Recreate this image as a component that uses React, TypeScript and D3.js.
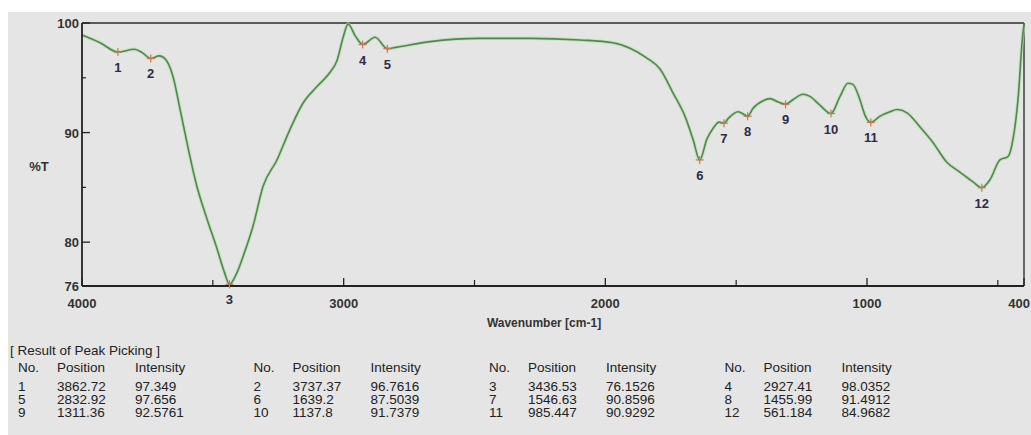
import React from "react";
import * as d3 from "d3";

// Spectrum (wavenumber cm-1, %T)
const wavenumbers = [4000, 3931, 3862.72, 3800, 3770, 3737.37, 3705, 3685, 3652, 3625, 3599, 3561, 3522, 3484, 3455, 3436.53, 3410, 3380, 3346, 3308, 3255, 3205, 3155, 3102, 3052, 3025, 3002, 2983, 2955, 2927.41, 2880, 2832.92, 2796, 2670, 2479, 2288, 2097, 1971, 1906, 1841, 1791, 1741, 1696, 1665, 1639.2, 1612, 1588, 1565, 1546.63, 1530, 1493, 1466, 1455.99, 1436, 1397, 1371, 1340, 1311.36, 1283, 1245, 1218, 1180, 1137.8, 1103, 1073, 1054, 1027, 1008, 985.447, 950, 912, 885, 847, 797, 748, 695, 645, 595, 561.184, 530, 492, 461, 442, 423, 404, 400];
const transmittance = [98.9, 98.2, 97.35, 97.6, 97.3, 96.76, 97.0, 96.8, 95.1, 92.1, 89.1, 85.1, 82.1, 79.4, 77.2, 76.15, 77.1, 79.0, 81.5, 85.1, 87.5, 90.3, 92.7, 94.2, 95.5, 96.6, 98.7, 99.9, 98.8, 98.04, 98.7, 97.66, 97.8, 98.3, 98.6, 98.6, 98.45, 98.2, 97.7, 96.8, 95.8, 93.6, 91.5, 89.4, 87.5, 89.4, 90.4, 90.95, 90.86, 91.3, 91.9, 91.6, 91.49, 92.2, 92.9, 93.1, 92.8, 92.58, 93.0, 93.5, 93.3, 92.5, 91.74, 93.3, 94.5, 94.4, 93.0, 91.6, 90.93, 91.5, 91.9, 92.1, 91.8, 90.5, 89.1, 87.3, 86.4, 85.5, 84.97, 85.7, 87.5, 87.8, 89.4, 93.0, 99.1, 99.8];

// Peak picking results
const peakNo = [1, 2, 3, 4, 5, 6, 7, 8, 9, 10, 11, 12];
const peakPos = [3862.72, 3737.37, 3436.53, 2927.41, 2832.92, 1639.2, 1546.63, 1455.99, 1311.36, 1137.8, 985.447, 561.184];
const peakInt = [97.349, 96.7616, 76.1526, 98.0352, 97.656, 87.5039, 90.8596, 91.4912, 92.5761, 91.7379, 90.9292, 84.9682];

const xTicksMajor = [4000, 3000, 2000, 1000, 400];
const xTicksMinor = [3500, 2500, 1500, 500];
const yTicksMajor = [100, 90, 80, 76];
const yTicksMinor = [95, 85];

const W = 1031;
const H = 435;
const L = 82, R = 1024, T = 23, B = 286;

export default function App() {
  const x = d3.scaleLinear().domain([4000, 400]).range([L, R]);
  const y = d3.scaleLinear().domain([76, 100]).range([B, T]);
  const pts: [number, number][] = wavenumbers.map((w, i) => [w, transmittance[i]]);
  const line = d3
    .line<[number, number]>()
    .x((d) => x(d[0]))
    .y((d) => y(d[1]))
    .curve(d3.curveMonotoneX);
  const path = line(pts) || "";
  const font = "'Liberation Sans', Arial, sans-serif";

  return (
    <svg
      width={W}
      height={H}
      style={{ position: "absolute", left: 0, top: 0, display: "block" }}
      fontFamily={font}
    >
      <rect x={0} y={0} width={W} height={H} fill="#ffffff" />
      <rect x={8} y={12} width={W - 8} height={H - 12} fill="#e5e5e5" />

      {/* frame */}
      <line x1={L} y1={T} x2={R} y2={T} stroke="#5a5a5a" strokeWidth={2.2} />
      <line x1={R} y1={T} x2={R} y2={B} stroke="#5a5a5a" strokeWidth={1.8} />

      {/* curve */}
      <path d={path} fill="none" stroke="#b9dcb0" strokeWidth={3.5} opacity={0.7} />
      <path d={path} fill="none" stroke="#4f8a4a" strokeWidth={1.6} />

      {/* axes */}
      <line x1={L} y1={T} x2={L} y2={B} stroke="#222" strokeWidth={1.8} />
      <line x1={L} y1={B} x2={R} y2={B} stroke="#222" strokeWidth={1.8} />

      {yTicksMajor.map((t) => (
        <g key={"ym" + t}>
          <line x1={L} x2={L + 8} y1={y(t)} y2={y(t)} stroke="#222" strokeWidth={1.3} />
          <text
            x={L - 3}
            y={y(t) + 5}
            textAnchor="end"
            fontSize={13}
            fontWeight="bold"
            fill="#333"
          >
            {t}
          </text>
        </g>
      ))}
      {yTicksMinor.map((t) => (
        <line key={"yn" + t} x1={L} x2={L + 4} y1={y(t)} y2={y(t)} stroke="#222" strokeWidth={1.2} />
      ))}
      {xTicksMajor.map((t, i) => {
        const last = i === xTicksMajor.length - 1;
        return (
          <g key={"xm" + t}>
            <line x1={x(t)} x2={x(t)} y1={B} y2={B - 8} stroke="#222" strokeWidth={1.3} />
            <text
              x={last ? W - 1 : x(t)}
              y={B + 22}
              textAnchor={last ? "end" : "middle"}
              fontSize={13}
              fontWeight="bold"
              fill="#333"
            >
              {t}
            </text>
          </g>
        );
      })}
      {xTicksMinor.map((t) => (
        <line key={"xn" + t} x1={x(t)} x2={x(t)} y1={B} y2={B - 6} stroke="#222" strokeWidth={1.2} />
      ))}

      <text x={39} y={171} textAnchor="middle" fontSize={13} fontWeight="bold" fill="#333">
        %T
      </text>
      <text x={544} y={327} textAnchor="middle" fontSize={12} fontWeight="bold" fill="#333">
        Wavenumber [cm-1]
      </text>

      {/* peak markers */}
      {peakNo.map((n, i) => {
        const px = x(peakPos[i]);
        const py = y(peakInt[i]);
        return (
          <g key={"pk" + n}>
            <line x1={px - 4} x2={px + 4} y1={py} y2={py} stroke="#c9785a" strokeWidth={1.2} />
            <line x1={px} x2={px} y1={py - 4} y2={py + 4} stroke="#c9785a" strokeWidth={1.2} />
            <text x={px} y={py + 20} textAnchor="middle" fontSize={13} fontWeight="bold" fill="#2d2b45">
              {n}
            </text>
          </g>
        );
      })}

      {/* table */}
      <text x={10} y={355} fontSize={13.5} fill="#222">
        [ Result of Peak Picking ]
      </text>
      {[0, 1, 2, 3].map((c) => {
        const gx = 18 + c * 235.5;
        return (
          <g key={"hd" + c} fontSize={13.5} fill="#222">
            <text x={gx} y={372}>No.</text>
            <text x={gx + 39} y={372}>Position</text>
            <text x={gx + 117} y={372}>Intensity</text>
          </g>
        );
      })}
      {peakNo.map((n, i) => {
        const c = i % 4;
        const r = Math.floor(i / 4);
        const gx = 18 + c * 235.5;
        const ty = 391 + r * 13;
        return (
          <g key={"row" + n} fontSize={13.5} fill="#222">
            <text x={gx} y={ty}>{n}</text>
            <text x={gx + 39} y={ty}>{String(peakPos[i])}</text>
            <text x={gx + 117} y={ty}>{String(peakInt[i])}</text>
          </g>
        );
      })}
    </svg>
  );
}
